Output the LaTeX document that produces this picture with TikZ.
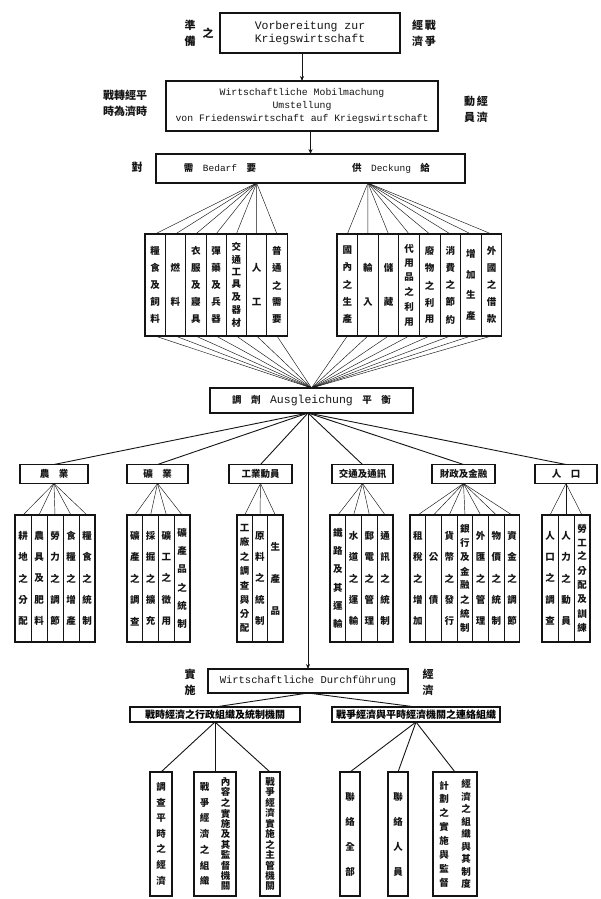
\documentclass[tikz,border=0pt]{standalone}
\usepackage{fontspec}
\usepackage{tikz}
\usetikzlibrary{arrows.meta, calc}
\setmonofont{Liberation Mono}
\newfontfamily\cjk{Noto Sans CJK TC}
\definecolor{ink}{RGB}{20,20,20}
\tikzset{
  box/.style={rectangle, draw=ink, line width=1.1pt, inner sep=2pt, outer sep=0pt},
  colbox/.style={rectangle, draw=ink, line width=1.1pt, inner sep=0pt, outer sep=0pt},
  coltext/.style={inner sep=0pt, font=\cjk\bfseries\fontsize{9.5}{9.5}\selectfont, text=ink},
  divider/.style={draw=ink, line width=0.8pt},
  fan/.style={draw=ink, line width=0.45pt},
  link/.style={draw=ink, line width=0.9pt},
  arrow/.style={-{Stealth[length=5pt,width=4pt]}, draw=ink, line width=0.9pt},
  zh/.style={font=\cjk\bfseries\fontsize{11}{16}\selectfont, text=ink, align=center, inner sep=1pt},
  zhs/.style={font=\cjk\bfseries\fontsize{9.5}{10}\selectfont, text=ink},
  de/.style={font=\ttfamily\fontsize{10.5}{12}\selectfont, text=ink, align=center}
}
% characters of one column, spread over the given height
\makeatletter
\def\vs@loop#1{\ifx#1\relax\else\vfil\hbox to 1.1em{\hss#1\hss}\expandafter\vs@loop\fi}
\newcommand{\vstack}[2]{\vbox to #1{\offinterlineskip\expandafter\vs@loop#2\relax\vfil}}
\makeatother
% box of vertical text columns: name, left, top, column width, columns, height, texts
\newcommand{\colgroup}[7]{%
  \node[colbox, anchor=north west, minimum width={#4*#5}, minimum height=#6] (#1) at (#2,#3) {};
  \pgfmathsetmacro{\cgh}{#6-8}
  \foreach \coltxt [count=\i] in {#7}{
    \coordinate (#1-t\i) at ({#2+(\i-0.5)*#4},#3);
    \coordinate (#1-b\i) at ({#2+(\i-0.5)*#4},{#3+#6});
    \node[coltext] (#1-\i) at ({#2+(\i-0.5)*#4},{#3+#6/2}) {\vstack{\cgh pt}{\coltxt}};
    \ifnum\i>1 \draw[divider] ({#2+(\i-1)*#4},#3) -- ({#2+(\i-1)*#4},{#3+#6}); \fi
  }
}

\begin{document}
\begin{tikzpicture}[x=1pt, y=-1pt]
  \useasboundingbox (0,0) rectangle (600,899);

  % Vorbereitung
  \node[box, de, font=\ttfamily\fontsize{11.5}{13}\selectfont, minimum width=180, minimum height=40] (vorb) at (310,33) {Vorbereitung zur\\Kriegswirtschaft};
  \node[zh] (vorbl) at (190,33) {準\\備};
  \node[zh] (vorbz) at (208,33) {之};
  \node[zh] (vorbr) at (424,33) {經\,戰\\濟\,爭};

  % Mobilmachung
  \node[box, de, font=\ttfamily\fontsize{9.8}{13}\selectfont, minimum width=272, minimum height=50] (mobil) at (302,106) {Wirtschaftliche Mobilmachung\\Umstellung\\von Friedenswirtschaft auf Kriegswirtschaft};
  \node[zh] (mobill) at (125,103) {戰轉經平\\時為濟時};
  \node[zh] (mobilr) at (476,109) {動\,經\\員\,濟};
  \draw[arrow] (vorb.south -| mobil.north) -- (mobil.north);

  % Bedarf / Deckung
  \node[box, minimum width=309, minimum height=29] (bedeck) at (310.5,168.5) {};
  \node[zhs] (bedarf) at (220,168.5) {需\quad{\ttfamily\mdseries Bedarf}\quad 要};
  \node[zhs] (deckung) at (391,168.5) {供\quad{\ttfamily\mdseries Deckung}\quad 給};
  \node[zh] (bedeckl) at (137,167) {對};
  \draw[arrow] (bedeck.north |- mobil.south) -- (bedeck.north);

  % Ausgleichung
  \node[box, zhs, minimum width=203, minimum height=25] (ausg) at (311.5,400.5) {調\quad 劑\quad{\ttfamily\mdseries\fontsize{11.5}{12}\selectfont Ausgleichung}\quad 平\quad 衡};

  \colgroup{bed}{145}{234}{20.3}{7}{102}{糧食及飼料,燃料,衣服及寢具,彈藥及兵器,交通工具及器材,人工,普通之需要}
  \colgroup{dec}{337}{234}{20.6}{8}{102}{國內之生產,輸入,儲藏,代用品之利用,廢物之利用,消費之節約,增加生產,外國之借款}
  \coordinate (bsrc) at (bedeck.south -| bed-t6);
  \coordinate (dsrc) at (bedeck.south -| dec-t2);
  \foreach \i in {1,...,7} \draw[fan] (bsrc) -- (bed-t\i) (bed-b\i) -- (ausg.north);
  \foreach \i in {1,...,8} \draw[fan] (dsrc) -- (dec-t\i) (dec-b\i) -- (ausg.north);

  % branches
  \node[box, zhs, minimum width=68, minimum height=19] (h1) at (54,474) {農\quad 業};
  \node[box, zhs, minimum width=61, minimum height=19] (h2) at (157.5,474) {礦\quad 業};
  \node[box, zhs, minimum width=63, minimum height=19] (h3) at (260.5,474) {工業動員};
  \node[box, zhs, minimum width=61, minimum height=19] (h4) at (362.5,474) {交通及通訊};
  \node[box, zhs, minimum width=63, minimum height=19] (h5) at (463.5,474) {財政及金融};
  \node[box, zhs, minimum width=62, minimum height=19] (h6) at (566,474) {人\quad 口};

  \colgroup{c1}{15}{515}{16}{5}{127}{耕地之分配,農具及肥料,勞力之調節,食糧之增產,糧食之統制}
  \colgroup{c2}{127}{515}{15.75}{4}{127}{礦產之調查,採掘之擴充,礦工之徵用,礦產品之統制}
  \colgroup{c3}{237}{515}{15.33}{3}{127}{工廠之調查與分配,原料之統制,生產品}
  \colgroup{c4}{330}{515}{15.75}{4}{127}{鐵路及其運輸,水道之運輸,郵電之管理,通訊之統制}
  \colgroup{c5}{410}{515}{15.7}{7}{127}{租稅之增加,公債,貨幣之發行,銀行及金融之統制,外匯之管理,物價之統制,資金之調節}
  \colgroup{c6}{542}{515}{16}{3}{127}{人口之調查,人力之動員,勞工之分配及訓練}

  \coordinate (asrc) at (ausg.south -| 308,0);
  \foreach \g in {1,...,6} \draw[link] (asrc) -- (h\g.north);
  \foreach \g/\n in {1/5,2/4,3/3,4/4,5/7,6/3}
    \foreach \i in {1,...,\n} \draw[fan] (h\g.south) -- (c\g-t\i);

  % Durchfuehrung
  \node[box, de, minimum width=200, minimum height=24] (durch) at (308,681) {Wirtschaftliche Durchführung};
  \node[zh] (durchl) at (190,682) {實\\施};
  \node[zh] (durchr) at (428,682) {經\\濟};
  \draw[arrow] (asrc) -- (durch.north);

  \node[box, font=\cjk\bfseries\fontsize{10}{11}\selectfont, minimum width=170, minimum height=15] (lbox) at (215,714.5) {戰時經濟之行政組織及統制機關};
  \node[box, font=\cjk\bfseries\fontsize{10}{11}\selectfont, minimum width=168, minimum height=15] (rbox) at (416,714.5) {戰爭經濟與平時經濟機關之連絡組織};
  \draw[link] (durch.south) -- (lbox.north);
  \draw[link] (durch.south) -- (rbox.north);

  \colgroup{la}{150}{772}{22}{1}{124}{調查平時之經濟}
  \colgroup{lc}{260}{772}{20}{1}{124}{戰爭經濟實施之主管機關}
  \colgroup{rd}{340}{772}{20}{1}{124}{聯絡全部}
  \colgroup{re}{388}{772}{20}{1}{124}{聯絡人員}
  \begin{scope}[divider/.style={draw=none}]
    \colgroup{lb}{194}{772}{21}{2}{124}{戰爭經濟之組織,內容之實施及其監督機關}
    \colgroup{rf}{433}{772}{22}{2}{124}{計劃之實施與監督,經濟之組織與其制度}
  \end{scope}
  \foreach \b in {la,lb,lc} \draw[link] (lbox.south) -- (\b.north);
  \foreach \b in {rd,re,rf} \draw[link] (rbox.south) -- (\b.north);
\end{tikzpicture}
\end{document}
